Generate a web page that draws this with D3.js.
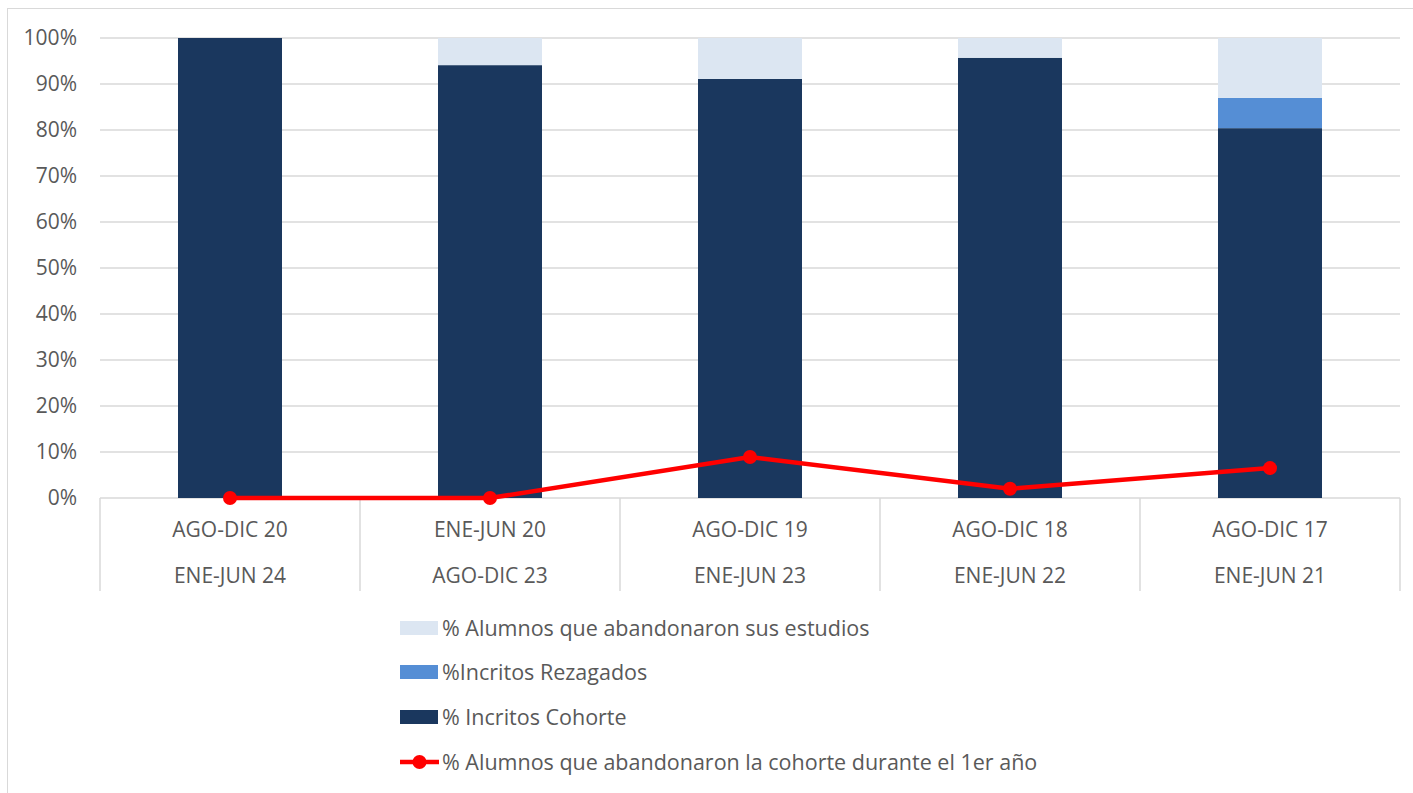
<!DOCTYPE html>
<html>
<head>
<meta charset="utf-8">
<script src="https://cdn.jsdelivr.net/npm/d3@7"></script>
<style>
  body { margin: 0; background: #fff; }
  text { font-family: "Open Sans", sans-serif; fill: #595959; }
</style>
</head>
<body>
<svg id="chart" width="1413" height="793"></svg>
<script>
const periodTop = ["AGO-DIC 20", "ENE-JUN 20", "AGO-DIC 19", "AGO-DIC 18", "AGO-DIC 17"];
const periodBottom = ["ENE-JUN 24", "AGO-DIC 23", "ENE-JUN 23", "ENE-JUN 22", "ENE-JUN 21"];
const cohorte = [100, 94.1, 91.1, 95.7, 80.4];
const rezagados = [0, 0, 0, 0, 6.6];
const abandonaron = [0, 5.9, 8.9, 4.3, 13.0];
const abandonoPrimerAnio = [0, 0, 8.9, 2.0, 6.5];
const seriesNames = ["% Alumnos que abandonaron sus estudios", "%Incritos Rezagados", "% Incritos Cohorte", "% Alumnos que abandonaron la cohorte durante el 1er año"];
const yTicks = [0, 10, 20, 30, 40, 50, 60, 70, 80, 90, 100];

const svg = d3.select("#chart");
const plotLeft = 100, plotRight = 1400, plotTop = 38, plotBottom = 498;

// outer frame
svg.append("rect")
    .attr("x", 7.5).attr("y", 8.5)
    .attr("width", 1420).attr("height", 800)
    .attr("fill", "none")
    .attr("stroke", "#d9d9d9");

const x = d3.scaleBand().domain(periodTop).range([plotLeft, plotRight]).paddingInner(0).paddingOuter(0);
const y = d3.scaleLinear().domain([0, 100]).range([plotBottom, plotTop]);
const barW = 104;

// gridlines
svg.selectAll(".grid").data(yTicks).enter().append("line")
    .attr("x1", plotLeft).attr("x2", plotRight)
    .attr("y1", d => y(d)).attr("y2", d => y(d))
    .attr("stroke", "#d9d9d9").attr("stroke-width", 1.5);

svg.selectAll(".ytick").data(yTicks).enter().append("text")
    .attr("x", 77).attr("y", d => y(d))
    .attr("dy", "0.35em")
    .attr("text-anchor", "end")
    .attr("font-size", "21px")
    .text(d => d + "%");

// category dividers
const dividers = periodTop.map(d => x(d)).concat([plotRight]);
svg.selectAll(".div").data(dividers).enter().append("line")
    .attr("x1", d => d).attr("x2", d => d)
    .attr("y1", plotBottom).attr("y2", 591)
    .attr("stroke", "#d9d9d9").attr("stroke-width", 1.5);

// stacked bars
const stackData = periodTop.map((p, i) => ({period: p, cohorte: cohorte[i], rezagados: rezagados[i], abandonaron: abandonaron[i]}));
const stack = d3.stack().keys(["cohorte", "rezagados", "abandonaron"])(stackData);
const colors = {cohorte: "#1a375e", rezagados: "#558ed5", abandonaron: "#dce6f2"};

stack.forEach(layer => {
    svg.selectAll(".bar-" + layer.key).data(layer).enter().append("rect")
        .attr("x", d => x(d.data.period) + x.bandwidth() / 2 - barW / 2)
        .attr("width", barW)
        .attr("y", d => y(d[1]))
        .attr("height", d => y(d[0]) - y(d[1]))
        .attr("fill", colors[layer.key]);
});

// x labels
svg.selectAll(".xtop").data(periodTop).enter().append("text")
    .attr("x", d => x(d) + x.bandwidth() / 2).attr("y", 530)
    .attr("dy", "0.35em").attr("text-anchor", "middle")
    .attr("font-size", "21px")
    .text(d => d);
svg.selectAll(".xbot").data(periodBottom).enter().append("text")
    .attr("x", (d, i) => x(periodTop[i]) + x.bandwidth() / 2).attr("y", 576)
    .attr("dy", "0.35em").attr("text-anchor", "middle")
    .attr("font-size", "21px")
    .text(d => d);

// line
const line = d3.line()
    .x((d, i) => x(periodTop[i]) + x.bandwidth() / 2)
    .y(d => y(d));
svg.append("path")
    .attr("d", line(abandonoPrimerAnio))
    .attr("fill", "none")
    .attr("stroke", "#ff0000")
    .attr("stroke-width", 4.5);
svg.selectAll(".pt").data(abandonoPrimerAnio).enter().append("circle")
    .attr("cx", (d, i) => x(periodTop[i]) + x.bandwidth() / 2)
    .attr("cy", d => y(d))
    .attr("r", 7)
    .attr("fill", "#ff0000");

// legend
const legendY = [628, 672, 717, 762];
const legendColors = [colors.abandonaron, colors.rezagados, colors.cohorte];
seriesNames.forEach((name, i) => {
    const ly = legendY[i];
    if (i < 3) {
        svg.append("rect")
            .attr("x", 400).attr("y", ly - 7)
            .attr("width", 38).attr("height", 14)
            .attr("fill", legendColors[i]);
    } else {
        svg.append("line")
            .attr("x1", 400).attr("x2", 439)
            .attr("y1", ly).attr("y2", ly)
            .attr("stroke", "#ff0000").attr("stroke-width", 4.5);
        svg.append("circle")
            .attr("cx", 419.5).attr("cy", ly).attr("r", 7)
            .attr("fill", "#ff0000");
    }
    svg.append("text")
        .attr("x", 442).attr("y", ly)
        .attr("dy", "0.35em")
        .attr("font-size", "21.5px")
        .text(name);
});
</script>
</body>
</html>
